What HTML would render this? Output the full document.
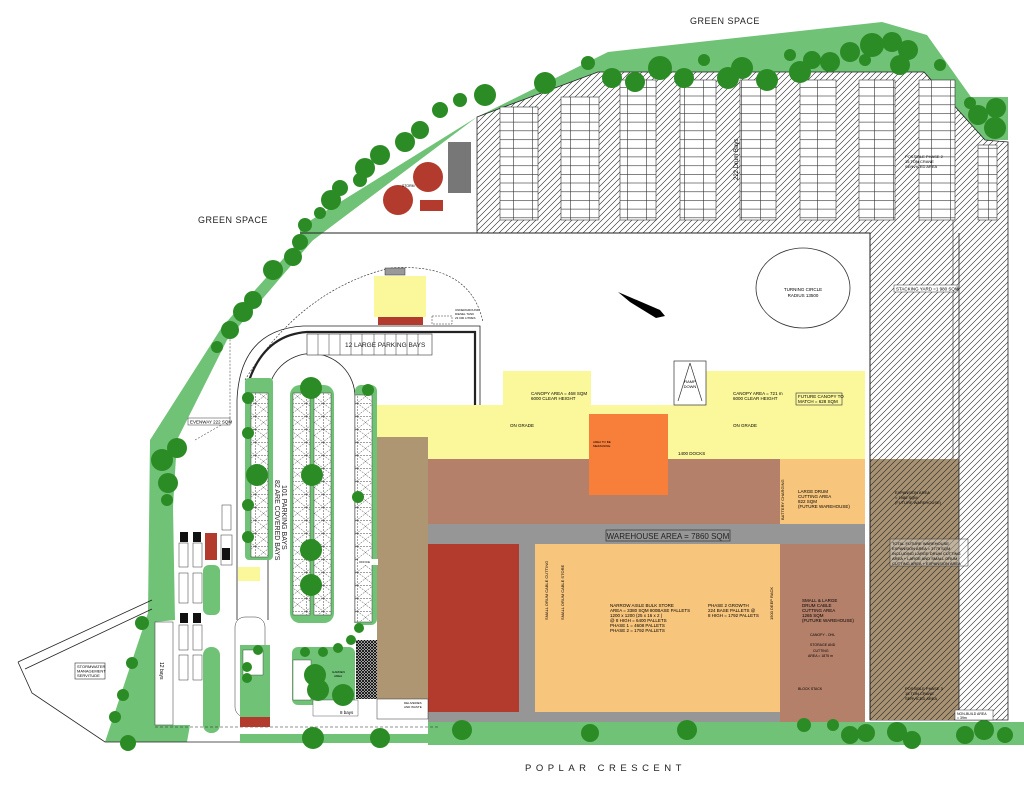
<!DOCTYPE html>
<html><head><meta charset="utf-8"><style>
html,body{margin:0;padding:0;background:#fff;}
svg{display:block;font-family:"Liberation Sans",sans-serif;}
</style></head><body>
<svg width="1024" height="803" viewBox="0 0 1024 803" xmlns="http://www.w3.org/2000/svg">
<defs>
<pattern id="h" width="6" height="6" patternUnits="userSpaceOnUse"><path d="M-1,1 L1,-1 M0,6 L6,0 M5,7 L7,5" stroke="#222" stroke-width="0.6"/></pattern>
<pattern id="st" width="19" height="8.7" patternUnits="userSpaceOnUse"><rect width="19" height="8.7" fill="#fff"/><path d="M0,0.3 H19 M0.3,0 V8.7" stroke="#333" stroke-width="0.6"/></pattern>
<pattern id="xb" width="17" height="13" patternUnits="userSpaceOnUse"><rect width="17" height="13" fill="#fff"/><path d="M0,0.3 H17 M0.3,0 V13 M0,0 L17,13 M17,0 L0,13" stroke="#444" stroke-width="0.5" stroke-dasharray="2,1"/></pattern>
<pattern id="ch" width="3" height="3" patternUnits="userSpaceOnUse"><rect width="3" height="3" fill="#fff"/><path d="M0,0 L3,3 M3,0 L0,3" stroke="#000" stroke-width="0.9"/></pattern>
</defs>

<!-- top green band -->
<polygon points="300,227 477,117 608,52 882,22 927,35 971,97 1008,97 1008,140 985,140 924,72 598,72 477,117 300,250" fill="#70c277"/>
<!-- left green band -->
<polygon points="300,240 313,240 227,340 177,440 173,507 175,620 155,622 155,725 190,725 187,742 105,742 148,613 150,440 222,327" fill="#70c277"/>
<!-- bottom green -->
<rect x="240" y="734" width="200" height="9" fill="#70c277"/>
<rect x="428" y="722" width="596" height="23" fill="#70c277"/>
<rect x="203" y="647" width="17" height="86" rx="8" fill="#70c277"/>
<rect x="203" y="565" width="17" height="50" rx="6" fill="#70c277"/>

<!-- hatched parking area -->
<polygon points="477,117 598,72 924,72 985,140 1008,142 1008,720 870,720 870,233 477,233" fill="url(#h)" stroke="#222" stroke-width="0.8"/>
<rect x="870" y="459" width="89" height="261" fill="#a89272"/>
<rect x="870" y="459" width="89" height="261" fill="url(#h)"/>
<line x1="959" y1="233" x2="959" y2="720" stroke="#222" stroke-width="0.8"/>
<line x1="953" y1="140" x2="953" y2="459" stroke="#222" stroke-width="0.6"/>
<g stroke="#333" stroke-width="0.6">
<rect x="500" y="107" width="38" height="113" fill="url(#st)"/>
<rect x="561" y="97" width="38" height="123" fill="url(#st)"/>
<rect x="620" y="80" width="36" height="140" fill="url(#st)"/>
<rect x="680" y="80" width="36" height="140" fill="url(#st)"/>
<rect x="740" y="80" width="36" height="140" fill="url(#st)"/>
<rect x="800" y="80" width="36" height="140" fill="url(#st)"/>
<rect x="859" y="80" width="36" height="140" fill="url(#st)"/>
<rect x="919" y="80" width="36" height="140" fill="url(#st)"/>
<rect x="978" y="145" width="19" height="75" fill="url(#st)"/>
</g>
<rect x="448" y="142" width="23" height="51" fill="#777"/>
<ellipse cx="428" cy="177" rx="15" ry="15" fill="#b33b2e"/>
<ellipse cx="398" cy="200" rx="15" ry="15" fill="#b33b2e"/>
<rect x="420" y="200" width="23" height="11" fill="#b33b2e"/>
<text x="402" y="187" font-size="3.5">STORM</text>
<text x="718" y="200" font-size="6" transform="rotate(-90 718 180)">222 Drum Bays</text>
<text x="905" y="158" font-size="4">POSSIBLE PHASE 2</text>
<text x="905" y="163" font-size="4">15 TON CRANE</text>
<text x="905" y="168" font-size="4">SERVICED AREA</text>
<rect x="894" y="285" width="63" height="7" fill="#fff" stroke="#333" stroke-width="0.5"/>
<text x="896" y="290.5" font-size="4.5">STACKING YARD =1 980 SQM</text>

<!-- road frame -->
<path d="M300,233 H870 V720" fill="none" stroke="#222" stroke-width="1"/>
<ellipse cx="803" cy="288" rx="47" ry="40" fill="none" stroke="#333" stroke-width="0.8"/>
<text x="803" y="291" font-size="4.5" text-anchor="middle">TURNING CIRCLE</text>
<text x="803" y="297" font-size="4.5" text-anchor="middle">RADIUS  13500</text>
<polygon points="618,292 660,310 665,316 656,318 630,302" fill="#000"/>

<!-- canopy yellow -->
<rect x="503" y="371" width="88" height="36" fill="#fbf79b"/>
<rect x="706" y="371" width="159" height="36" fill="#fbf79b"/>
<rect x="377" y="405" width="488" height="55" fill="#fbf79b"/>
<rect x="674" y="361" width="32" height="44" fill="#fff" stroke="#333" stroke-width="0.7"/>
<path d="M690,363 L678,401 M690,363 L702,401" stroke="#333" stroke-width="0.7"/>
<text x="690" y="383" font-size="4" text-anchor="middle">RAMP</text><text x="690" y="388" font-size="4" text-anchor="middle">DOWN</text>
<text x="531" y="395" font-size="4.5">CANOPY AREA = 468 SQM</text><text x="531" y="400" font-size="4.5">6000 CLEAR HEIGHT</text>
<text x="733" y="395" font-size="4.5">CANOPY AREA = 721 m</text><text x="733" y="400" font-size="4.5">6000 CLEAR HEIGHT</text>
<rect x="796" y="393" width="46" height="12" fill="none" stroke="#333" stroke-width="0.6"/>
<text x="798" y="398" font-size="4.5">FUTURE CANOPY TO</text><text x="798" y="403" font-size="4.5">MATCH = 628 SQM</text>
<text x="510" y="427" font-size="4.5">ON GRADE</text><text x="733" y="427" font-size="4.5">ON GRADE</text>
<text x="678" y="455" font-size="4.5">1400 DOCKS</text>

<!-- warehouse -->
<rect x="428" y="459" width="352" height="65" fill="#b5806a"/>
<rect x="780" y="459" width="85" height="65" fill="#f8c57c"/>
<rect x="428" y="524" width="437" height="20" fill="#969696"/>
<rect x="428" y="544" width="91" height="168" fill="#b33b2e"/>
<rect x="519" y="544" width="16" height="168" fill="#969696"/>
<rect x="535" y="544" width="245" height="168" fill="#f8c57c"/>
<rect x="428" y="712" width="352" height="10" fill="#969696"/>
<rect x="780" y="544" width="85" height="178" fill="#b5806a"/>
<rect x="589" y="414" width="79" height="81" fill="#f77f3a"/>
<text x="593" y="443" font-size="3">AREA TO BE</text><text x="593" y="447" font-size="3">MEZZANINE</text>
<rect x="606" y="530" width="124" height="11" fill="none" stroke="#333" stroke-width="0.7"/>
<text x="668" y="539" font-size="8" text-anchor="middle" fill="#222">WAREHOUSE AREA = 7860 SQM</text>
<text x="610" y="607" font-size="4.5">NARROW AISLE BULK STORE</text>
<text x="610" y="612" font-size="4.5">AREA = 3380 SQM 800BASE PALLETS</text>
<text x="610" y="617" font-size="4.5">1200 x 1200 (25 x 16 x 2 )</text>
<text x="610" y="622" font-size="4.5">@ 8 HIGH = 6400 PALLETS</text>
<text x="610" y="627" font-size="4.5">PHASE 1 = 4608 PALLETS</text>
<text x="610" y="632" font-size="4.5">PHASE 2 = 1792 PALLETS</text>
<text x="708" y="607" font-size="4.5">PHASE 2 GROWTH</text>
<text x="708" y="612" font-size="4.5">224 BASE PALLETS @</text>
<text x="708" y="617" font-size="4.5">8 HIGH = 1792 PALLETS</text>
<text x="0" y="0" font-size="4" transform="translate(548,620) rotate(-90)">SMALL DRUM CABLE CUTTING</text>
<text x="0" y="0" font-size="4" transform="translate(564,620) rotate(-90)">SMALL DRUM CABLE STORE</text>
<text x="0" y="0" font-size="4" transform="translate(773,620) rotate(-90)">1500 DEEP RACK</text>
<text x="0" y="0" font-size="4" transform="translate(784,520) rotate(-90)">BATTERY CHARGING</text>
<text x="798" y="493" font-size="4.5">LARGE DRUM</text><text x="798" y="498" font-size="4.5">CUTTING AREA</text><text x="798" y="503" font-size="4.5">822 SQM</text><text x="798" y="508" font-size="4.5">(FUTURE WAREHOUSE)</text>
<text x="802" y="602" font-size="4.5">SMALL &amp; LARGE</text><text x="802" y="607" font-size="4.5">DRUM CABLE</text><text x="802" y="612" font-size="4.5">CUTTING AREA</text><text x="802" y="617" font-size="4.5">1265 SQM</text><text x="802" y="622" font-size="4.5">(FUTURE WAREHOUSE)</text>
<text x="810" y="636" font-size="3.5">CANOPY - OHL</text>
<text x="810" y="646" font-size="3.5">STORAGE AND</text><text x="813" y="652" font-size="3.5">CUTTING</text><text x="808" y="657" font-size="3.5">AREA = 1875 m</text>
<text x="798" y="690" font-size="3.5">BLOCK STACK</text>
<text x="895" y="494" font-size="4">EXPANSION AREA</text><text x="895" y="499" font-size="4">= 1980 SQM</text><text x="895" y="504" font-size="4">(FUTURE WAREHOUSE)</text>
<rect x="890" y="539" width="78" height="27" fill="#fff" fill-opacity="0.3" stroke="#333" stroke-width="0.5"/>
<text x="892" y="545" font-size="4">TOTAL FUTURE WAREHOUSE</text><text x="892" y="550" font-size="4">EXPANSION AREA = 3775 SQM</text><text x="892" y="555" font-size="4">INCLUDING LARGE DRUM CUTTING</text><text x="892" y="560" font-size="4">AREA + LARGE AND SMALL DRUM</text><text x="892" y="565" font-size="4">CUTTING AREA + EXPANSION AREA</text>
<text x="905" y="690" font-size="4">POSSIBLE PHASE 3</text><text x="905" y="695" font-size="4">15 TON CRANE</text><text x="905" y="700" font-size="4">SERVICED AREA</text>
<rect x="955" y="710" width="38" height="10" fill="#fff" stroke="#333" stroke-width="0.5"/>
<text x="957" y="715" font-size="3.5">NON-BUILD AREA</text><text x="957" y="719" font-size="3.5">= 39m</text>

<!-- left building strip -->
<rect x="377" y="437" width="51" height="262" fill="#ae9672"/>
<rect x="365" y="490" width="12" height="25" fill="#ae9672"/>
<rect x="356" y="640" width="21" height="59" fill="url(#ch)"/>
<rect x="377" y="699" width="51" height="20" fill="#fff" stroke="#333" stroke-width="0.5"/>
<text x="404" y="704" font-size="3">DELIVERIES</text><text x="404" y="708" font-size="3">AND WASTE</text>

<!-- roads -->
<g fill="none" stroke="#222">
<path d="M237,620 V400 Q240,330 303,326 H480 V405" stroke-width="0.8"/>
<path d="M247,387 Q262,335 307,332 H475 V405" stroke-width="2.2"/>
<path d="M268,620 V397 A43,43 0 0 1 355,397 V623" stroke-width="0.8"/>
<path d="M245,380 Q300,290 390,268 Q470,262 483,322" stroke-width="0.6" stroke-dasharray="2,1.5"/>
<path d="M195,440 L230,420 V320" stroke-width="0.5" stroke-dasharray="2,1.5"/>
<path d="M155,727 H440" stroke-width="0.6" stroke-dasharray="3,2"/>
<path d="M18,662 L152,600 M25,669 L152,609 M18,662 L32,693 L105,742 H240" stroke-width="0.8"/>
</g>
<rect x="75" y="663" width="30" height="16" fill="#fff" stroke="#333" stroke-width="0.6"/>
<text x="77" y="668" font-size="4">STORMWATER</text><text x="77" y="672.5" font-size="4">MANAGEMENT</text><text x="77" y="677" font-size="4">SERVITUDE</text>
<rect x="188" y="418" width="42" height="7" fill="#fff" stroke="#333" stroke-width="0.5"/>
<text x="190" y="423.5" font-size="4.5">EVENWAY 222 SQM</text>

<!-- 12 large bays & small building -->
<rect x="307" y="334" width="125" height="21" fill="#fff" stroke="#333" stroke-width="0.6"/>
<g stroke="#333" stroke-width="0.5"><path d="M318,334V355M329,334V355M340,334V355M351,334V355M362,334V355M374,334V355M385,334V355M396,334V355M407,334V355M418,334V355"/></g>
<text x="345" y="347" font-size="6.5" fill="#222">12 LARGE PARKING BAYS</text>
<rect x="374" y="276" width="52" height="41" fill="#fbf79b"/>
<rect x="378" y="317" width="45" height="8" fill="#b33b2e"/>
<rect x="385" y="268" width="20" height="7" fill="#999" stroke="#333" stroke-width="0.5"/>
<rect x="432" y="316" width="20" height="8" fill="#fff" stroke="#333" stroke-width="0.5" stroke-dasharray="2,1"/>
<text x="455" y="311" font-size="3">UNDERGROUND</text><text x="455" y="315" font-size="3">DIESEL TANK</text><text x="455" y="319" font-size="3">23 000 LITRES</text>

<!-- parking islands -->
<rect x="245" y="378" width="28" height="182" rx="4" fill="#70c277"/>
<rect x="251" y="393" width="17" height="164" fill="url(#xb)" stroke="#444" stroke-width="0.5"/>
<rect x="290" y="385" width="44" height="238" rx="10" fill="#70c277"/>
<rect x="293" y="393" width="17" height="222" fill="url(#xb)" stroke="#444" stroke-width="0.5"/>
<rect x="314" y="393" width="17" height="222" fill="url(#xb)" stroke="#444" stroke-width="0.5"/>
<rect x="355" y="385" width="22" height="240" rx="6" fill="#70c277"/>
<rect x="355" y="395" width="17" height="227" fill="url(#xb)" stroke="#444" stroke-width="0.5"/>
<text x="0" y="0" font-size="7" fill="#222" transform="translate(282,485) rotate(90)">101 PARKING BAYS</text>
<text x="0" y="0" font-size="7" fill="#222" transform="translate(275,480) rotate(90)">82 ARE COVERED BAYS</text>

<!-- entrance structure -->
<g stroke="#333" stroke-width="0.5" fill="#fff">
<rect x="179" y="543" width="9" height="24"/><rect x="193" y="543" width="9" height="24"/>
<rect x="179" y="573" width="9" height="30"/><rect x="193" y="573" width="9" height="30"/>
<rect x="179" y="625" width="9" height="25"/><rect x="193" y="625" width="9" height="25"/>
<rect x="179" y="655" width="9" height="25"/><rect x="193" y="655" width="9" height="25"/>
<rect x="221" y="535" width="11" height="30"/><rect x="222" y="505" width="9" height="25"/>
<rect x="235" y="617" width="30" height="100" rx="10"/>
</g>
<rect x="240" y="645" width="30" height="72" fill="#70c277"/>
<rect x="243" y="650" width="20" height="25" fill="#fff" stroke="#333" stroke-width="0.4"/>
<rect x="240" y="717" width="30" height="10" fill="#b33b2e"/>
<rect x="292" y="647" width="63" height="58" rx="6" fill="#70c277"/>
<rect x="293" y="660" width="18" height="40" fill="#fff" stroke="#333" stroke-width="0.4"/>
<rect x="313" y="700" width="45" height="16" fill="#fff" stroke="#333" stroke-width="0.4"/>
<text x="340" y="714" font-size="4.5">8 bays</text>
<text x="332" y="673" font-size="3">GARDEN</text><text x="334" y="677" font-size="3">AREA</text>
<rect x="155" y="622" width="18" height="103" fill="#fff" stroke="#333" stroke-width="0.5"/>
<text x="0" y="0" font-size="5" transform="translate(160,662) rotate(90)">12 bays</text>
<rect x="205" y="533" width="12" height="27" fill="#b33b2e"/>
<g fill="#111"><rect x="180" y="532" width="8" height="10"/><rect x="193" y="532" width="8" height="10"/><rect x="222" y="548" width="8" height="12"/><rect x="180" y="613" width="8" height="10"/><rect x="193" y="613" width="8" height="10"/></g>
<rect x="238" y="567" width="22" height="14" fill="#fbf79b"/>
<rect x="358" y="559" width="20" height="6" fill="#fff"/>
<text x="359" y="563" font-size="3">OFFICE</text>

<!-- trees -->
<g fill="#2b8c25">
<circle cx="300" cy="242" r="8"/><circle cx="293" cy="257" r="9"/><circle cx="273" cy="270" r="10"/><circle cx="253" cy="300" r="9"/><circle cx="243" cy="312" r="10"/><circle cx="230" cy="330" r="9"/><circle cx="217" cy="347" r="6"/>
<circle cx="177" cy="448" r="10"/><circle cx="162" cy="460" r="11"/><circle cx="168" cy="483" r="10"/><circle cx="167" cy="500" r="6"/>
<circle cx="142" cy="623" r="7"/><circle cx="132" cy="663" r="6"/><circle cx="123" cy="695" r="6"/><circle cx="115" cy="717" r="6"/><circle cx="128" cy="743" r="8"/>
<circle cx="305" cy="225" r="7"/><circle cx="320" cy="213" r="6"/><circle cx="331" cy="200" r="10"/><circle cx="340" cy="188" r="8"/><circle cx="360" cy="180" r="7"/><circle cx="365" cy="168" r="10"/><circle cx="380" cy="155" r="10"/><circle cx="405" cy="142" r="10"/><circle cx="420" cy="130" r="9"/><circle cx="440" cy="110" r="8"/><circle cx="460" cy="100" r="7"/><circle cx="485" cy="95" r="11"/><circle cx="545" cy="83" r="11"/><circle cx="588" cy="63" r="7"/><circle cx="612" cy="78" r="10"/><circle cx="635" cy="82" r="10"/><circle cx="660" cy="68" r="12"/><circle cx="684" cy="78" r="10"/><circle cx="704" cy="60" r="6"/><circle cx="728" cy="78" r="11"/><circle cx="742" cy="68" r="11"/><circle cx="767" cy="80" r="11"/><circle cx="790" cy="55" r="6"/><circle cx="800" cy="72" r="11"/><circle cx="812" cy="60" r="9"/><circle cx="830" cy="62" r="10"/><circle cx="850" cy="52" r="10"/><circle cx="872" cy="45" r="12"/><circle cx="892" cy="42" r="10"/><circle cx="908" cy="50" r="10"/><circle cx="900" cy="65" r="10"/><circle cx="865" cy="60" r="6"/><circle cx="940" cy="65" r="6"/><circle cx="970" cy="103" r="6"/><circle cx="978" cy="115" r="10"/><circle cx="996" cy="108" r="10"/><circle cx="995" cy="128" r="11"/>
<circle cx="257" cy="475" r="11"/><circle cx="248" cy="398" r="6"/><circle cx="248" cy="433" r="6"/><circle cx="248" cy="505" r="6"/><circle cx="248" cy="537" r="6"/>
<circle cx="311" cy="388" r="11"/><circle cx="312" cy="475" r="11"/><circle cx="311" cy="550" r="11"/><circle cx="311" cy="585" r="11"/>
<circle cx="368" cy="390" r="6"/><circle cx="358" cy="497" r="6"/><circle cx="359" cy="628" r="5"/><circle cx="351" cy="640" r="5"/><circle cx="338" cy="648" r="5"/><circle cx="323" cy="652" r="5"/><circle cx="305" cy="652" r="5"/>
<circle cx="315" cy="675" r="11"/><circle cx="318" cy="690" r="11"/><circle cx="343" cy="695" r="11"/><circle cx="247" cy="667" r="5"/><circle cx="247" cy="678" r="5"/><circle cx="258" cy="650" r="5"/>
<circle cx="313" cy="738" r="11"/><circle cx="380" cy="738" r="10"/><circle cx="462" cy="730" r="10"/><circle cx="590" cy="733" r="9"/><circle cx="687" cy="730" r="10"/><circle cx="804" cy="725" r="7"/><circle cx="833" cy="725" r="6"/><circle cx="850" cy="735" r="9"/><circle cx="866" cy="733" r="9"/><circle cx="897" cy="732" r="10"/><circle cx="912" cy="740" r="9"/><circle cx="965" cy="735" r="9"/><circle cx="984" cy="730" r="10"/><circle cx="1005" cy="735" r="8"/>
</g>

<!-- big labels -->
<text x="690" y="24" font-size="9" fill="#222" letter-spacing="0.5">GREEN SPACE</text>
<text x="198" y="223" font-size="9" fill="#222" letter-spacing="0.5">GREEN SPACE</text>
<text x="525" y="771" font-size="9.5" fill="#222" letter-spacing="4.5">POPLAR CRESCENT</text>
</svg>
</body></html>
